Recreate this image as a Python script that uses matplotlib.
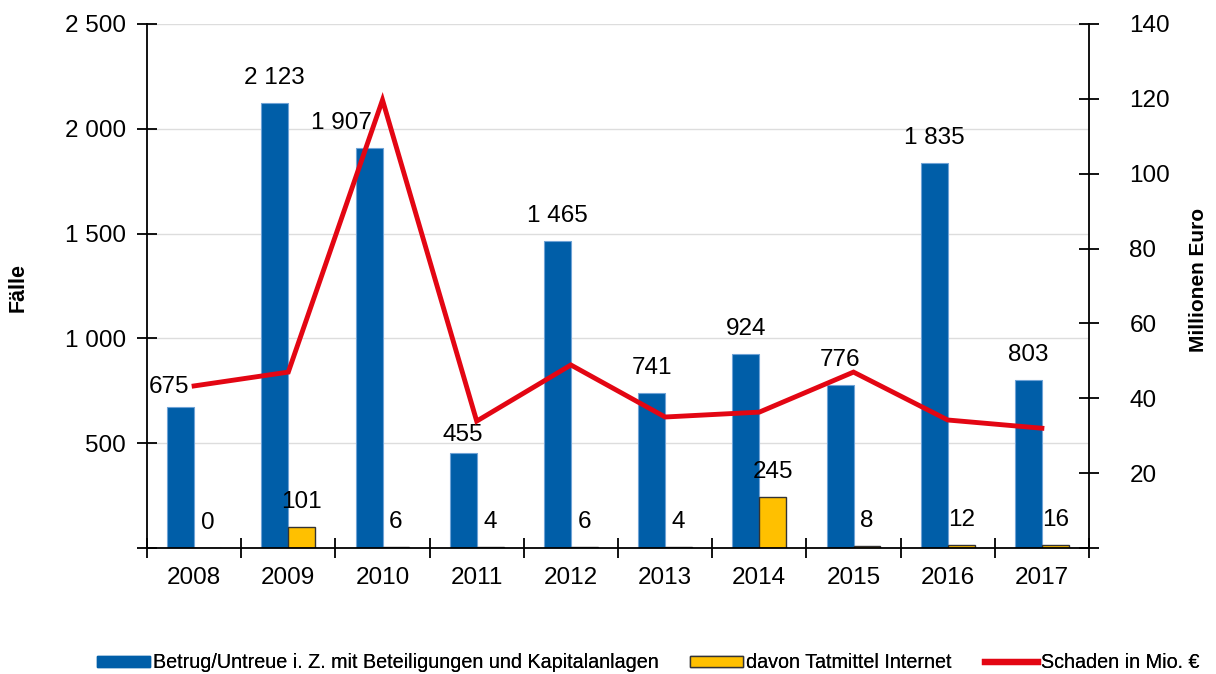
import matplotlib
matplotlib.use("Agg")
import matplotlib.pyplot as plt
from matplotlib.ticker import FixedLocator, FuncFormatter
from matplotlib.patches import Patch
from matplotlib.lines import Line2D
import numpy as np

plt.rcParams["font.family"] = ["Liberation Sans", "DejaVu Sans"]

# ---------- Daten ----------
years = ["2008", "2009", "2010", "2011", "2012", "2013", "2014", "2015", "2016", "2017"]
faelle = [675, 2123, 1907, 455, 1465, 741, 924, 776, 1835, 803]
internet = [0, 101, 6, 4, 6, 4, 245, 8, 12, 16]
schaden = [43.3, 47.0, 119.7, 33.9, 48.9, 35.0, 36.3, 47.0, 34.2, 32.0]

BLUE = "#005EA8"
YELLOW = "#FFC000"
RED = "#E30613"
FS = 17.5

def fmt(v):
    return f"{int(v):,}".replace(",", " ")

fig = plt.figure(figsize=(12.16, 6.74), dpi=100)
ax = fig.add_axes([147 / 1216, 126 / 674, (1089 - 147) / 1216, (548 - 24) / 674])
ax2 = ax.twinx()

x = np.arange(len(years))
w = 0.286

ax.bar(x - w / 2, faelle, w, color=BLUE, edgecolor="#6FA3D6", linewidth=0.8, zorder=2)
ax.bar(x + w / 2, internet, w, color=YELLOW, edgecolor="#333333", linewidth=1.0, zorder=2)
ax2.plot(x, schaden, color=RED, lw=3.5, solid_joinstyle="miter", zorder=3)

# Datenbeschriftungen
for i, v in enumerate(faelle):
    dx, dy = 0, 25
    if i == 0:
        dx, dy = -12, 20
    elif i == 2:
        dx = -28
    elif i == 3:
        dy = 18
    ax.annotate(fmt(v), (x[i] - w / 2, v), xytext=(dx, dy), textcoords="offset pixels",
                ha="center", va="center", fontsize=FS, zorder=2)
for i, v in enumerate(internet):
    ax.annotate(fmt(v), (x[i] + w / 2, v), xytext=(0, 25), textcoords="offset pixels",
                ha="center", va="center", fontsize=FS)

# Achsen
ax.set_xlim(-0.5, len(years) - 0.5)
ax.set_ylim(0, 2500)
ax2.set_ylim(0, 140)

ax.yaxis.set_major_locator(FixedLocator(np.arange(0, 2501, 500)))
ax.yaxis.set_major_formatter(FuncFormatter(lambda v, p: "" if v == 0 else fmt(v)))
ax2.yaxis.set_major_locator(FixedLocator(np.arange(0, 141, 20)))
ax2.yaxis.set_major_formatter(FuncFormatter(lambda v, p: "" if v == 0 else f"{int(v)}"))

ax.xaxis.set_major_locator(FixedLocator(np.arange(-0.5, len(years), 1.0)))
ax.xaxis.set_major_formatter(FuncFormatter(lambda v, p: ""))
ax.xaxis.set_minor_locator(FixedLocator(x))
ax.set_xticklabels(years, minor=True)
ax.tick_params(axis="x", which="minor", length=0, pad=14, labelsize=FS)
ax.tick_params(axis="x", which="major", direction="inout", length=14, width=1.3)
ax.tick_params(axis="y", direction="inout", length=14, width=1.3, labelsize=FS, pad=8)
ax2.tick_params(axis="y", direction="inout", length=14, width=1.3, labelsize=FS, pad=22)

ax.grid(axis="y", color="#DDDDDD", lw=1)
ax.set_axisbelow(True)

for s in ["top", "right"]:
    ax.spines[s].set_visible(False)
for s in ["top", "left", "bottom"]:
    ax2.spines[s].set_visible(False)
ax.spines["left"].set_linewidth(1.3)
ax.spines["bottom"].set_linewidth(1.3)
ax2.spines["right"].set_linewidth(1.3)

fig.text(18 / 1216, 1 - 287 / 674, "Fälle", rotation=90, ha="center", va="center",
         fontsize=15.5, fontweight="bold")
fig.text(1198 / 1216, 1 - 280 / 674, "Millionen Euro", rotation=90, ha="center", va="center",
         fontsize=15, fontweight="bold")

# Legende: drei Einträge, jeweils links verankert
entries = [
    (Patch(facecolor=BLUE, edgecolor=BLUE),
     "Betrug/Untreue i. Z. mit Beteiligungen und Kapitalanlagen", 97),
    (Patch(facecolor=YELLOW, edgecolor="#333333", linewidth=1.0),
     "davon Tatmittel Internet", 690),
    (Line2D([0], [0], color=RED, lw=4.5), "Schaden in Mio. €", 985),
]
for h, lab, xl in entries:
    leg = fig.legend([h], [lab], loc="center left", bbox_to_anchor=(xl / 1216, 1 - 663 / 674),
                     frameon=False, fontsize=14.2, handlelength=2.7, handleheight=0.45,
                     handletextpad=0.15, borderpad=0, borderaxespad=0)
    fig.add_artist(leg)

fig.savefig("out.png", dpi=100, facecolor="white")
